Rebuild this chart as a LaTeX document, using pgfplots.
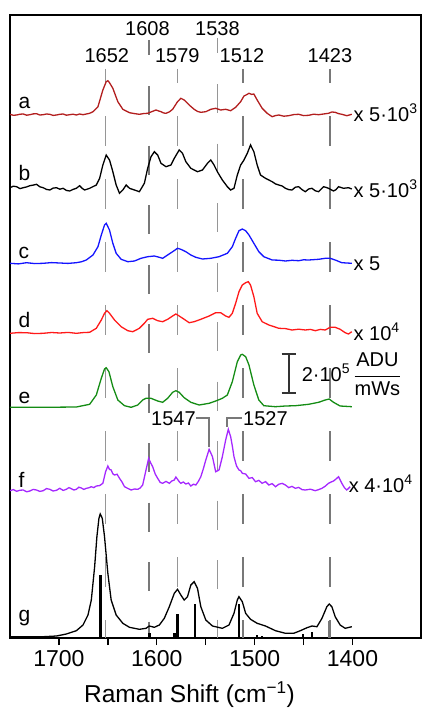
\documentclass[border=0pt]{standalone}
\usepackage{fontspec}
\setmainfont{Liberation Sans}
\usepackage{pgfplots}
\pgfplotsset{compat=1.18}
\definecolor{cA}{RGB}{178,30,30}
\definecolor{cC}{RGB}{20,20,255}
\definecolor{cD}{RGB}{255,25,25}
\definecolor{cE}{RGB}{20,140,20}
\definecolor{cF}{RGB}{165,40,255}
\definecolor{lg}{RGB}{150,150,150}
\definecolor{dg}{RGB}{120,120,120}
\newcommand{\fs}{\fontsize{20}{24}\selectfont}
\begin{document}
\begin{tikzpicture}
\begin{axis}[name=ax, scale only axis, width=411pt, height=623pt,
  x dir=reverse, y dir=reverse,
  xmin=1330, xmax=1750, ymin=15, ymax=638,
  ytick=\empty,
  xtick={1700,1600,1500,1400}, minor xtick={1650,1550,1450},
  xtick pos=bottom,
  tick align=outside, major tick length=7pt, minor tick length=7pt,
  axis line style={line width=1.6pt},
  tick style={black, line width=1.3pt},
  clip=false,
  /pgf/number format/assume math mode=true,
  /pgf/number format/1000 sep={},
  xticklabel style={font=\fontsize{23}{27}\selectfont, yshift=-2pt},
  xlabel={Raman Shift (cm\textsuperscript{−1})},
  xlabel style={font=\fontsize{24.5}{28}\selectfont, yshift=-8pt, xshift=-26pt},
  every axis plot/.append style={line width=1.3pt},
]
% reference lines
\addplot[lg, line width=1.2pt, dash pattern=on 30pt off 33pt, dash phase=16pt] coordinates {(1652,69) (1652,638)};
\addplot[lg, line width=1.2pt, dash pattern=on 30pt off 33pt, dash phase=16pt] coordinates {(1579,69) (1579,638)};
\addplot[dg, line width=1.8pt, dash pattern=on 30pt off 33pt, dash phase=16pt] coordinates {(1512,69) (1512,638)};
\addplot[dg, line width=1.8pt, dash pattern=on 30pt off 33pt, dash phase=16pt] coordinates {(1423,69) (1423,638)};
\addplot[dg, line width=1.8pt, dash pattern=on 29pt off 30.5pt] coordinates {(1608,86) (1608,638)};
\addplot[lg, line width=1.2pt, dash pattern=on 29pt off 30.5pt] coordinates {(1538,84) (1538,638)};
\addplot[dg, line width=1.8pt] coordinates {(1608,40) (1608,55)};
\addplot[lg, line width=1.2pt] coordinates {(1538,38) (1538,53)};
% leaders
\addplot[dg, line width=1.5pt] coordinates {(1559.8,418) (1546.5,418) (1546.5,447)};
\addplot[dg, line width=1.5pt] coordinates {(1513,418) (1528,418) (1528,427)};
% scale bar
\addplot[black!80, line width=1.8pt] coordinates {(1465.2,354) (1465.2,393)};
\addplot[black!80, line width=1.8pt] coordinates {(1472.3,354) (1458.1,354)};
\addplot[black!80, line width=1.8pt] coordinates {(1472.3,393) (1458.1,393)};
% a
\addplot[cA] coordinates {
(1750.0,114.3)(1746.6,115.3)(1743.2,115.0)(1739.8,114.2)(1736.4,114.0)(1733.0,115.2)(1729.7,114.7)(1726.3,113.9)(1722.9,113.7)(1719.5,115.0)(1716.1,114.7)(1712.7,114.0)(1709.3,114.3)(1705.9,115.4)(1702.5,115.0)(1699.1,114.3)(1695.7,114.0)(1692.4,115.2)(1689.0,114.7)(1685.6,114.2)(1682.2,115.0)(1678.8,114.0)(1675.4,114.7)(1672.0,114.0)(1668.6,113.3)(1665.2,111.7)(1660.1,106.7)(1655.1,90.0)(1651.7,81.7)(1650.0,80.7)(1648.3,82.7)(1644.9,88.3)(1639.8,101.7)(1634.7,109.3)(1631.3,111.0)(1627.9,112.7)(1622.8,113.6)(1617.8,114.3)(1613.7,113.6)(1609.3,113.3)(1605.0,111.6)(1600.8,110.0)(1598.0,111.0)(1595.7,111.7)(1592.9,113.0)(1590.6,113.3)(1587.0,111.8)(1583.8,109.3)(1578.8,101.7)(1575.4,98.3)(1572.0,100.0)(1566.9,105.0)(1561.8,109.3)(1558.4,111.4)(1555.0,112.3)(1549.9,111.7)(1544.8,109.3)(1539.8,108.3)(1534.7,110.0)(1529.6,109.3)(1524.5,110.7)(1519.4,107.3)(1514.3,101.7)(1510.9,96.0)(1508.0,94.6)(1505.8,93.3)(1503.0,94.4)(1500.8,94.0)(1497.4,100.0)(1492.3,108.3)(1487.2,113.3)(1482.1,116.7)(1478.7,115.6)(1475.3,115.0)(1470.2,116.2)(1465.2,115.7)(1460.1,114.6)(1455.0,114.3)(1450.0,115.6)(1444.8,115.3)(1439.7,114.2)(1434.6,114.7)(1429.6,114.0)(1424.5,113.3)(1421.1,112.0)(1417.7,112.3)(1414.3,113.6)(1410.9,114.3)(1405.8,115.7)(1400.7,114.3)};
% b
\addplot[black] coordinates {
(1750.0,187.7)(1746.6,186.2)(1743.2,186.7)(1739.8,188.6)(1736.4,187.7)(1733.0,186.9)(1729.7,185.7)(1726.3,185.1)(1722.9,184.3)(1719.5,186.8)(1716.1,187.7)(1712.7,189.4)(1709.3,190.0)(1705.9,188.1)(1702.5,187.7)(1699.1,189.2)(1695.7,188.3)(1692.4,190.4)(1689.0,191.0)(1685.6,189.4)(1682.2,188.3)(1678.8,185.7)(1676.2,188.4)(1673.7,190.0)(1668.6,188.3)(1661.8,185.0)(1658.4,178.3)(1655.1,165.0)(1651.7,155.0)(1648.3,160.0)(1644.9,171.7)(1641.5,185.0)(1638.1,193.3)(1634.7,190.0)(1631.3,185.0)(1627.9,188.3)(1622.8,190.0)(1617.8,191.7)(1612.7,183.3)(1609.3,168.3)(1605.9,156.7)(1602.5,151.7)(1599.1,155.0)(1595.7,163.3)(1590.6,166.7)(1585.5,165.0)(1582.1,158.3)(1577.1,150.0)(1573.7,153.3)(1570.3,161.7)(1565.2,168.3)(1558.4,171.7)(1553.3,170.0)(1548.2,163.3)(1544.8,160.0)(1541.5,165.0)(1538.1,171.7)(1533.0,180.0)(1527.9,186.7)(1524.5,190.0)(1521.1,188.3)(1517.7,175.0)(1514.3,165.0)(1510.9,160.0)(1507.5,153.3)(1504.2,145.0)(1500.8,151.7)(1497.4,165.0)(1494.0,175.0)(1488.9,178.3)(1482.1,181.7)(1478.7,183.9)(1475.3,185.0)(1471.9,186.0)(1468.5,188.3)(1465.2,189.6)(1461.8,190.0)(1458.4,187.2)(1455.0,186.7)(1451.6,189.6)(1448.2,191.7)(1444.8,189.0)(1441.4,188.3)(1438.0,190.8)(1434.6,191.7)(1432.0,189.0)(1429.6,186.7)(1427.0,187.4)(1424.5,188.3)(1419.4,191.0)(1416.8,189.6)(1414.3,186.7)(1411.7,187.5)(1409.2,188.3)(1404.1,187.7)(1400.7,189.0)};
% c
\addplot[cC] coordinates {
(1750.0,263.3)(1741.5,263.9)(1733.0,262.7)(1724.6,263.6)(1716.1,263.3)(1707.6,262.6)(1699.1,263.0)(1690.7,263.4)(1682.2,262.7)(1677.1,261.8)(1672.0,260.0)(1665.2,255.0)(1660.1,246.7)(1656.7,235.0)(1653.4,225.0)(1651.7,223.3)(1648.3,230.0)(1644.9,243.3)(1641.5,253.3)(1636.4,259.3)(1629.6,261.7)(1622.8,261.0)(1616.1,258.3)(1609.3,256.7)(1602.5,256.0)(1597.4,257.3)(1594.0,258.3)(1588.9,255.0)(1583.8,251.7)(1578.8,248.3)(1575.4,249.3)(1570.3,251.7)(1565.2,255.0)(1560.1,257.3)(1553.3,259.0)(1544.8,258.3)(1536.4,256.7)(1527.9,253.3)(1522.8,246.7)(1519.4,238.3)(1516.0,230.7)(1512.6,229.0)(1509.2,230.7)(1505.8,235.0)(1500.8,243.3)(1495.7,251.7)(1490.6,256.7)(1482.1,260.0)(1475.3,260.2)(1468.5,261.0)(1461.8,260.3)(1455.0,260.7)(1450.0,259.8)(1444.8,260.0)(1434.6,259.3)(1427.9,258.3)(1422.8,258.3)(1417.7,260.0)(1410.9,262.7)(1400.7,263.3)};
% d
\addplot[cD] coordinates {
(1750.0,333.3)(1741.5,332.6)(1733.0,332.7)(1724.6,333.6)(1716.1,333.3)(1707.6,332.5)(1699.1,333.0)(1690.7,332.4)(1682.2,333.3)(1675.4,332.6)(1668.6,332.3)(1661.8,328.3)(1656.7,320.0)(1653.4,313.3)(1651.0,310.7)(1648.3,313.3)(1643.2,320.0)(1636.4,326.7)(1629.6,330.7)(1624.5,331.7)(1617.8,328.3)(1612.7,323.3)(1609.3,319.3)(1604.2,318.3)(1599.1,320.7)(1594.0,321.7)(1588.9,319.3)(1583.8,316.0)(1580.5,314.0)(1577.1,316.0)(1572.0,319.3)(1566.9,322.7)(1561.8,321.7)(1555.0,319.3)(1546.5,316.0)(1539.8,312.7)(1534.7,312.7)(1529.6,316.0)(1526.2,317.3)(1522.8,313.3)(1519.4,303.3)(1516.0,291.7)(1512.6,285.0)(1509.2,282.7)(1506.5,281.7)(1504.2,285.0)(1500.8,296.7)(1497.4,313.3)(1492.3,321.7)(1485.5,325.0)(1480.4,326.6)(1475.3,328.3)(1468.5,328.6)(1461.8,330.0)(1455.0,329.2)(1448.2,330.0)(1443.0,329.4)(1438.0,330.7)(1432.9,329.4)(1427.9,330.0)(1422.8,327.3)(1417.7,327.3)(1412.6,329.3)(1407.5,332.7)(1404.1,334.0)(1400.7,331.7)};
% e
\addplot[cE] coordinates {
(1750.0,407.3)(1716.1,407.3)(1682.2,407.0)(1668.6,404.3)(1661.8,395.0)(1656.7,378.3)(1653.4,369.0)(1651.7,367.7)(1648.9,371.7)(1644.9,386.7)(1639.8,400.0)(1633.0,405.7)(1626.2,407.3)(1619.4,405.0)(1614.4,400.0)(1611.0,398.3)(1605.9,398.3)(1599.1,401.0)(1594.0,402.3)(1588.9,398.3)(1583.8,392.3)(1580.5,390.7)(1577.1,392.3)(1572.0,397.7)(1565.2,402.3)(1556.7,405.0)(1546.5,403.3)(1539.8,401.0)(1533.0,398.3)(1527.9,395.0)(1522.8,381.7)(1517.7,361.7)(1514.3,355.0)(1512.6,354.3)(1509.2,356.7)(1505.8,365.0)(1500.8,385.0)(1495.7,400.0)(1490.6,405.7)(1478.7,406.7)(1468.5,406.0)(1458.4,405.7)(1444.8,404.3)(1434.6,402.3)(1427.9,400.0)(1423.8,399.0)(1419.4,402.3)(1412.6,406.0)(1400.7,406.7)};
% f
\addplot[cF] coordinates {
(1750.0,490.7)(1746.6,489.6)(1743.2,491.3)(1739.8,490.2)(1736.4,490.0)(1733.0,491.8)(1729.7,491.0)(1726.3,489.4)(1722.9,490.0)(1719.5,491.4)(1716.1,490.7)(1712.7,488.6)(1709.3,489.3)(1705.9,491.0)(1702.5,490.3)(1699.1,488.3)(1695.7,490.4)(1692.4,489.3)(1689.8,487.6)(1687.3,488.7)(1684.7,490.0)(1682.2,489.3)(1679.6,487.2)(1677.1,488.0)(1674.5,489.4)(1672.0,488.3)(1669.4,487.8)(1666.9,486.7)(1664.3,487.6)(1661.8,486.0)(1658.4,485.6)(1655.1,483.3)(1652.3,471.7)(1650.0,466.0)(1648.3,469.4)(1646.6,470.0)(1644.9,473.8)(1643.2,475.0)(1640.6,474.2)(1638.1,478.3)(1635.5,482.0)(1633.0,486.7)(1629.6,488.4)(1626.2,490.0)(1622.8,489.0)(1619.4,489.3)(1617.0,488.0)(1614.4,485.0)(1611.0,470.0)(1608.3,458.3)(1606.3,462.8)(1604.2,466.7)(1601.6,474.0)(1599.1,478.3)(1596.5,482.4)(1594.0,483.3)(1590.6,481.4)(1587.2,483.3)(1584.6,481.0)(1582.1,480.0)(1580.5,477.0)(1578.8,479.3)(1577.1,481.6)(1575.4,483.3)(1572.9,482.0)(1570.3,484.0)(1567.7,483.0)(1565.2,486.0)(1562.6,484.2)(1560.1,485.0)(1557.5,481.4)(1555.0,476.7)(1552.5,469.0)(1549.9,460.0)(1546.5,449.3)(1543.1,456.7)(1539.8,471.7)(1536.4,470.0)(1533.0,456.7)(1529.6,440.0)(1526.9,429.3)(1524.5,436.7)(1522.8,446.0)(1521.1,456.7)(1518.5,466.0)(1516.0,470.0)(1514.3,470.6)(1512.6,473.3)(1509.2,474.0)(1505.8,478.3)(1502.4,477.6)(1499.1,481.7)(1495.7,480.4)(1492.3,483.3)(1488.9,481.6)(1485.5,485.0)(1482.1,483.6)(1478.7,486.7)(1475.3,484.2)(1471.9,483.4)(1468.5,485.0)(1465.2,487.6)(1461.8,486.4)(1458.4,488.3)(1455.0,487.4)(1451.6,489.6)(1448.2,490.0)(1443.0,489.2)(1438.0,490.7)(1434.6,489.6)(1431.2,488.3)(1427.9,486.2)(1424.5,483.3)(1421.9,482.0)(1419.4,481.0)(1416.8,479.0)(1414.3,476.7)(1412.6,480.0)(1410.9,483.3)(1408.3,487.6)(1405.8,490.0)(1402.4,486.7)};
% g
\addplot[black] coordinates {
(1750.0,636.7)(1716.1,636.7)(1702.5,636.0)(1692.4,634.0)(1682.2,630.7)(1675.4,625.0)(1670.3,615.0)(1666.9,600.0)(1663.5,566.7)(1661.2,536.7)(1659.1,518.3)(1657.8,514.0)(1655.7,518.3)(1653.4,536.7)(1650.0,573.3)(1646.6,600.0)(1641.5,615.0)(1634.7,623.3)(1627.9,627.3)(1617.8,629.3)(1611.0,628.3)(1607.6,626.0)(1602.5,627.3)(1597.4,625.0)(1592.3,618.3)(1587.2,606.7)(1582.1,593.3)(1578.8,589.3)(1575.4,595.0)(1572.0,600.0)(1568.6,596.7)(1565.2,585.0)(1561.8,581.7)(1558.4,588.3)(1555.0,606.7)(1549.9,620.0)(1543.1,626.0)(1533.0,628.3)(1526.2,625.0)(1521.1,613.3)(1517.7,600.0)(1516.0,596.7)(1512.6,601.7)(1509.2,613.3)(1504.2,619.3)(1497.4,623.3)(1488.9,626.0)(1478.7,630.7)(1468.5,633.3)(1460.1,633.3)(1453.3,630.7)(1446.5,627.7)(1441.4,626.0)(1436.3,626.7)(1431.2,618.3)(1426.2,606.7)(1423.8,604.0)(1421.1,606.7)(1417.7,616.7)(1412.6,625.0)(1407.5,628.3)(1400.7,626.7)};
% sticks
\addplot[black, line width=2.6pt, unbounded coords=jump] coordinates {
(1657.8,638)(1657.8,575)(1657.8,nan)
(1578.8,638)(1578.8,614)(1578.8,nan)
(1561.1,638)(1561.1,604)(1561.1,nan)
(1516.0,638)(1516.0,604.3)(1516.0,nan)
(1607.6,638)(1607.6,633)(1607.6,nan)
(1582.1,638)(1582.1,633)(1582.1,nan)
(1497.4,638)(1497.4,635)(1497.4,nan)
(1492.3,638)(1492.3,635.5)(1492.3,nan)
(1450.6,638)(1450.6,634)(1450.6,nan)
(1441.4,638)(1441.4,631.7)};
\addplot[dg, line width=2.6pt] coordinates {(1423.8,638)(1423.8,620.7)};
% peak labels
\node[font=\fs] at (axis cs:1651,55.5) {1652};
\node[font=\fs] at (axis cs:1579,55.5) {1579};
\node[font=\fs] at (axis cs:1513,55.5) {1512};
\node[font=\fs] at (axis cs:1423,55.5) {1423};
\node[font=\fs] at (axis cs:1609.5,29) {1608};
\node[font=\fs] at (axis cs:1538,29) {1538};
\node[font=\fs] at (axis cs:1583,419) {1547};
\node[font=\fs] at (axis cs:1489,419) {1527};
% trace letters
\node[font=\fontsize{21}{25}\selectfont, anchor=base west] at (axis cs:1744.9,108) {a};
\node[font=\fontsize{21}{25}\selectfont, anchor=base west] at (axis cs:1744.9,180) {b};
\node[font=\fontsize{21}{25}\selectfont, anchor=base west] at (axis cs:1744.9,258) {c};
\node[font=\fontsize{21}{25}\selectfont, anchor=base west] at (axis cs:1744.9,327) {d};
\node[font=\fontsize{21}{25}\selectfont, anchor=base west] at (axis cs:1744.9,403) {e};
\node[font=\fontsize{21}{25}\selectfont, anchor=base west] at (axis cs:1744.9,487) {f};
\node[font=\fontsize{21}{25}\selectfont, anchor=base west] at (axis cs:1744.9,621) {g};
% scale factors
\node[font=\fs, anchor=base west, inner sep=0pt] at (axis cs:1399,121) {x 5·10\textsuperscript{3}};
\node[font=\fs, anchor=base west, inner sep=0pt] at (axis cs:1399,197) {x 5·10\textsuperscript{3}};
\node[font=\fs, anchor=base west, inner sep=0pt] at (axis cs:1399,270) {x 5};
\node[font=\fs, anchor=base west, inner sep=0pt] at (axis cs:1399,340) {x 10\textsuperscript{4}};
\node[font=\fs, anchor=base west, inner sep=0pt] at (axis cs:1404,492) {x 4·10\textsuperscript{4}};
\node[font=\fs, anchor=base west, inner sep=0pt] at (axis cs:1452,381) {2·10\textsuperscript{5}\,$\displaystyle\frac{\mbox{ADU}}{\mbox{mWs}}$};
\end{axis}
\pgfresetboundingbox
\path[use as bounding box] ([xshift=-10pt,yshift=-71pt]ax.south west) rectangle ([xshift=4pt,yshift=15pt]ax.north east);
\end{tikzpicture}
\end{document}
